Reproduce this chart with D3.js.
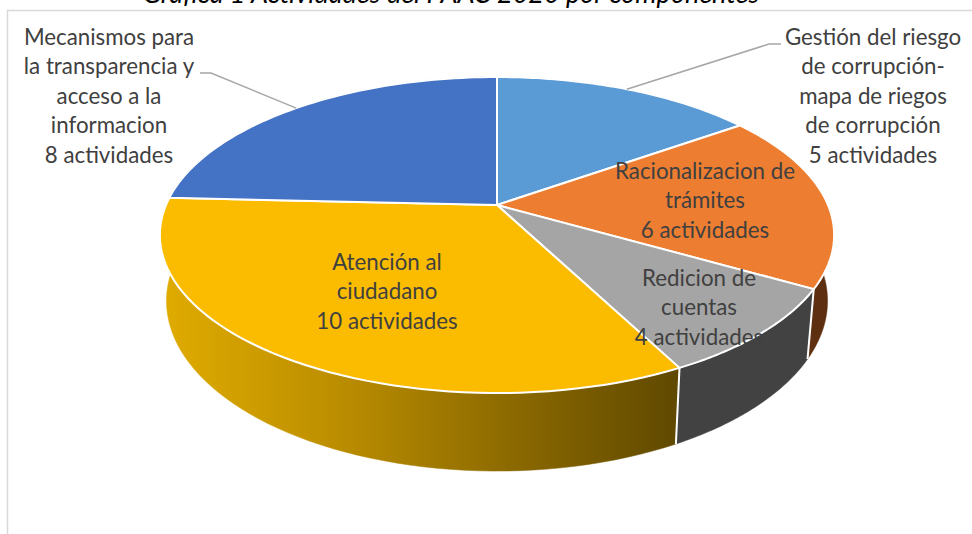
<!DOCTYPE html>
<html><head><meta charset="utf-8">
<script src="https://cdn.jsdelivr.net/npm/d3@7/dist/d3.min.js"></script>
<style>html,body{margin:0;padding:0;background:#fff}svg{display:block}</style>
</head><body><svg id="c" width="972" height="534"></svg>
<script>
const titleText = "Gráfica 1 Actividades del PAAC 2020 por componentes";
const sliceNames = ["Gestión","Racionalizacion","Redicion","Atencion","Mecanismos"];
const sliceValues = [5, 6, 3, 11, 8];
const sliceLabels = [
  ["Gestión del riesgo","de corrupción-","mapa de riegos","de corrupción","5 actividades"],
  ["Racionalizacion de","trámites","6 actividades"],
  ["Redicion de","cuentas","4 actividades"],
  ["Atención al","ciudadano","10 actividades"],
  ["Mecanismos para","la transparencia y","acceso a la","informacion","8 actividades"]
];
const topColors = ["#5b9bd5","#ed7d31","#a5a5a5","#fbbc00","#4472c4"];
const wallColors = ["#2f5d88","#5e2f10","#424242","url(#wallGold)","#2a4478"];

const svg = d3.select("#c");
const k = 0.19, cx = 497;
const topDisc = {y0:205, a:331, b:152.3};
const botDisc = {y0:268.6, a:324.5, b:164};
function project(disc, t){
  const u = Math.sin(t), v = -Math.cos(t), w = 1 - k*v;
  return [cx + disc.a*u/w, disc.y0 + disc.b*v/w];
}
const pie = d3.pie().sort(null).value(d=>d)(sliceValues);
const line = d3.line();
const samples = (a0,a1)=>d3.range(0,61).map(i=>a0+(a1-a0)*i/60);

const defs = svg.append("defs");
const g = defs.append("linearGradient").attr("id","wallGold")
  .attr("gradientUnits","userSpaceOnUse").attr("x1",165).attr("x2",680).attr("y1",0).attr("y2",0);
[[0,"#dfab00"],[0.3,"#c09100"],[0.65,"#8f6c00"],[1,"#5f4800"]]
  .forEach(([o,c])=>g.append("stop").attr("offset",o).attr("stop-color",c));

// frame
svg.append("path").attr("d","M7.5,534V10.5H972").attr("fill","none").attr("stroke","#d9d9d9").attr("stroke-width",1.5);

// title
svg.append("text").attr("x",451).attr("y",3).attr("text-anchor","middle")
  .attr("font-family","Lato").attr("font-style","italic").attr("font-size",27).attr("fill","#000")
  .text(titleText);

// walls, back to front
const order = [0,4,1,3,2];
svg.append("g").selectAll("path").data(order).join("path")
  .attr("d",i=>{
    const s = samples(pie[i].startAngle,pie[i].endAngle);
    return line(s.map(t=>project(topDisc,t)).concat(s.slice().reverse().map(t=>project(botDisc,t))))+"Z";
  })
  .attr("fill",i=>wallColors[i]).attr("stroke",i=>wallColors[i]).attr("stroke-width",0.5);
// white seams on the front wall
svg.append("g").selectAll("line").data(pie.slice(1,3)).join("line")
  .attr("x1",d=>project(topDisc,d.endAngle)[0]).attr("y1",d=>project(topDisc,d.endAngle)[1])
  .attr("x2",d=>project(botDisc,d.endAngle)[0]).attr("y2",d=>project(botDisc,d.endAngle)[1])
  .attr("stroke","#fff").attr("stroke-width",2);

// top face
svg.append("g").selectAll("path").data(pie).join("path")
  .attr("d",d=>line([[cx,topDisc.y0]].concat(samples(d.startAngle,d.endAngle).map(t=>project(topDisc,t))))+"Z")
  .attr("fill",(d,i)=>topColors[i]).attr("stroke","#fff").attr("stroke-width",2).attr("stroke-linejoin","round");

// leader lines
const leaders = [
  {i:0, elbow:[769,44], end:[781,44]},
  {i:4, elbow:[211,73], end:[200,73]}
];
svg.append("g").selectAll("path").data(leaders).join("path")
  .attr("d",d=>{
    const m = (pie[d.i].startAngle+pie[d.i].endAngle)/2;
    return line([project(topDisc,m),d.elbow,d.end]);
  })
  .attr("fill","none").attr("stroke","#a6a6a6").attr("stroke-width",1.5);

// labels
const labelPos = [[873,37],[705,171],[699,278],[387,262],[109,37]];
const lh = 29.5;
const lab = svg.append("g").attr("font-family","Lato").attr("font-size",22.3).attr("fill","#404040").attr("text-anchor","middle");
sliceLabels.forEach((lines,i)=>{
  lines.forEach((t,j)=>{
    lab.append("text").attr("x",labelPos[i][0]).attr("y",labelPos[i][1]+7.5+j*lh).text(t);
  });
});
</script></body></html>
